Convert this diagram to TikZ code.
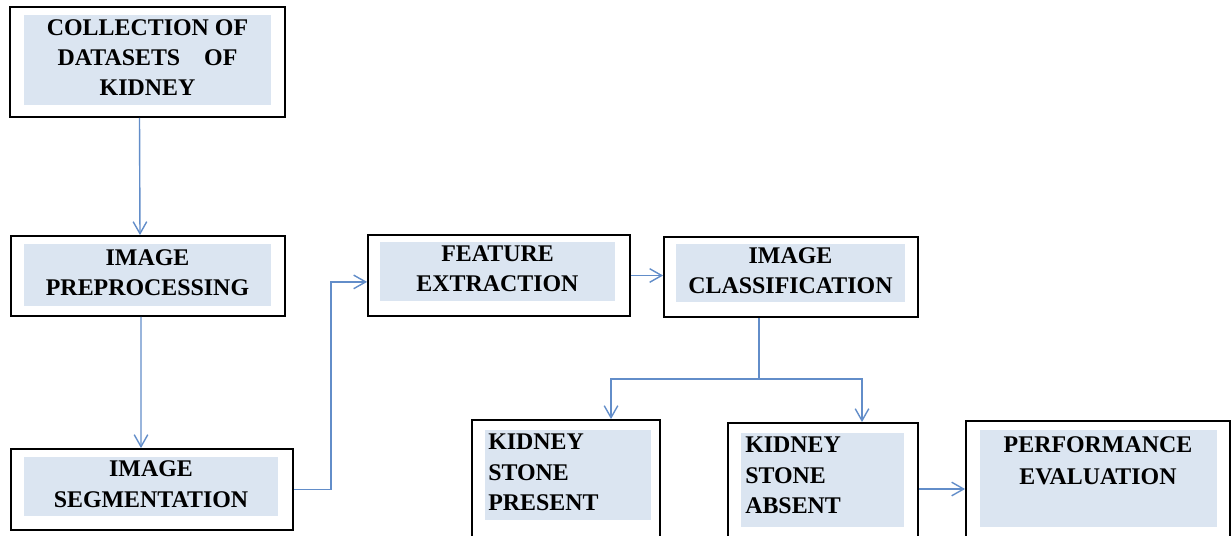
\documentclass[tikz,border=0pt]{standalone}
\usepackage{fontspec}
\setmainfont{Liberation Serif}
\usetikzlibrary{fit,arrows.meta}
\definecolor{insetblue}{RGB}{219,229,241}
\definecolor{flowblue}{RGB}{98,141,201}
\tikzset{
  box/.style={draw=black, line width=1.3pt, inner sep=0pt},
  inset/.style={fill=insetblue, inner sep=0pt},
  boxtext/.style={inner sep=0pt, align=left, font=\fontsize{17}{21.5}\selectfont\bfseries},
  boxtitle/.style={boxtext, align=center, yshift=0.06cm},
  flow/.style={draw=flowblue, line width=1pt, -{Straight Barb[length=3mm,width=3.4mm]}},
}
\begin{document}
\begin{tikzpicture}[x=0.025cm,y=-0.025cm]
    \clip (0,0) rectangle (1232,535);
    % left column
    \node[box, fit={(10,7) (285,117)}] (col) {};
    \node[inset, fit={(24,15) (271,105)}] (col-in) {};
    \node[boxtitle] (col-txt) at (col-in) {COLLECTION OF\\DATASETS\hspace{1em}OF\\KIDNEY};
    \node[box, fit={(11,236) (285,316)}] (pre) {};
    \node[inset, fit={(24,244) (271,306)}] (pre-in) {};
    \node[boxtitle] (pre-txt) at (pre-in) {IMAGE\\PREPROCESSING};
    \node[box, fit={(11,449) (293,530)}] (seg) {};
    \node[inset, fit={(24,457) (278,516)}] (seg-in) {};
    \node[boxtitle] (seg-txt) at (seg-in) {IMAGE\\SEGMENTATION};
    % top row
    \node[box, fit={(368,235) (630,316)}] (feat) {};
    \node[inset, fit={(380,242) (615,301)}] (feat-in) {};
    \node[boxtitle] (feat-txt) at (feat-in) {FEATURE\\EXTRACTION};
    \node[box, fit={(664,237) (918,317)}] (class) {};
    \node[inset, fit={(676,244) (905,302)}] (class-in) {};
    \node[boxtitle] (class-txt) at (class-in) {IMAGE\\CLASSIFICATION};
    % results, cut off at the bottom
    \node[box, fit={(472,420) (660,560)}] (pres) {};
    \node[inset, fit={(485,430) (651,520)}] (pres-in) {};
    \node[boxtext, anchor=north west] (pres-txt) at (488,434) {KIDNEY\\STONE\\PRESENT};
    \node[box, fit={(728,423) (918,555)}] (abs) {};
    \node[inset, fit={(741,433) (904,527)}] (abs-in) {};
    \node[boxtext, anchor=north west] (abs-txt) at (745,437) {KIDNEY\\STONE\\ABSENT};
    \node[box, fit={(966,421) (1230,557)}] (perf) {};
    \node[inset, fit={(980,430) (1217,527)}] (perf-in) {};
    \node[boxtext, align=center, font=\fontsize{17}{22.5}\selectfont\bfseries] (perf-txt) at (1098,461) {PERFORMANCE\\EVALUATION};
    % connectors
    \draw[flow] ([xshift=-0.2cm]col.south) -- ([xshift=-0.2cm]pre.north);
    \draw[flow] ([xshift=-0.175cm]pre.south) -- ([xshift=-0.275cm]seg.north);
    \draw[flow] (seg.east) -- ++(37,0) |- ([yshift=-0.16cm]feat.west);
    \draw[flow] (feat.east) -- (feat.east -| class.west);
    \path (class.south) ++(-32,0) coordinate (split-top) ++(0,61) coordinate (split);
    \draw[flowblue, line width=1pt] (split-top) -- (split);
    \draw[flow] (split) -| ([xshift=1.125cm]pres.north);
    \draw[flow] (split) -| ([xshift=0.975cm]abs.north);
    \draw[flow] (abs.east) -- (abs.east -| perf.west);
\end{tikzpicture}
\end{document}
